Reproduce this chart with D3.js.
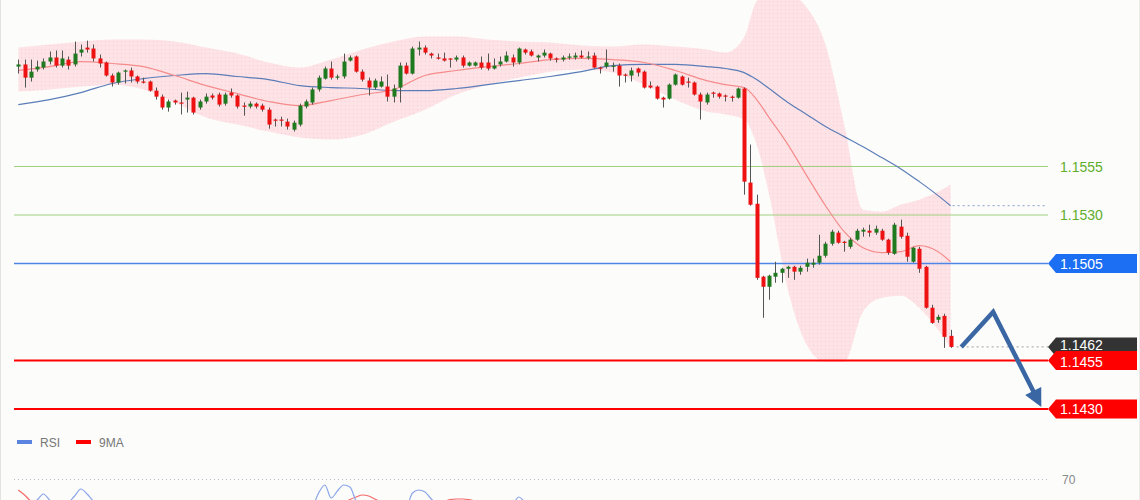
<!DOCTYPE html>
<html><head><meta charset="utf-8">
<script src="https://cdn.jsdelivr.net/npm/d3@7"></script>
<style>
html,body{margin:0;padding:0;background:#fcfcfa;}
svg{display:block;font-family:"Liberation Sans",Arial,sans-serif;}
</style></head><body>
<svg id="chart" width="1140" height="500"></svg>
<script>
// ---- candle data (EUR/USD style prices) ----
const opens = [
1.16065,1.16076,1.16008,1.16050,1.16060,1.16091,1.16112,1.16070,1.16101,1.16076,
1.16137,1.16163,1.16158,1.16107,1.16086,1.16019,1.15983,1.16039,1.16045,1.16014,
1.15988,1.15988,1.15941,1.15910,1.15854,1.15890,1.15880,1.15895,1.15905,1.15854,
1.15885,1.15916,1.15921,1.15874,1.15931,1.15916,1.15864,1.15859,1.15874,1.15864,
1.15843,1.15792,1.15792,1.15781,1.15740,1.15766,1.15859,1.15880,1.15947,1.16003,
1.16055,1.16008,1.16014,1.16096,1.16117,1.16039,1.15993,1.15957,1.15962,1.15962,
1.15910,1.15957,1.16070,1.16029,1.16153,1.16163,1.16132,1.16112,1.16107,1.16107,
1.16101,1.16112,1.16070,1.16070,1.16086,1.16086,1.16055,1.16076,1.16091,1.16112,
1.16086,1.16153,1.16143,1.16112,1.16122,1.16132,1.16107,1.16101,1.16112,1.16112,
1.16122,1.16112,1.16122,1.16060,1.16065,1.16065,1.16070,1.16024,1.16019,1.16055,
1.16039,1.15967,1.15962,1.15905,1.15900,1.15972,1.16014,1.15988,1.15983,1.15921,
1.15880,1.15931,1.15926,1.15916,1.15910,1.15905,1.15952,1.15467,1.15358,1.14982,
1.14930,1.14982,1.15002,1.15023,1.15033,1.15008,1.15033,1.15044,1.15054,1.15090,
1.15152,1.15209,1.15162,1.15136,1.15173,1.15214,1.15219,1.15209,1.15219,1.15173,
1.15100,1.15240,1.15193,1.15059,1.15126,1.15033,1.14822,1.14760,1.14780,1.14677];
const highs = [
1.16101,1.16101,1.16101,1.16096,1.16107,1.16143,1.16148,1.16148,1.16117,1.16194,
1.16179,1.16199,1.16179,1.16127,1.16091,1.16029,1.16039,1.16050,1.16060,1.16019,
1.16008,1.15993,1.15957,1.15921,1.15895,1.15895,1.15931,1.15936,1.15910,1.15895,
1.15926,1.15926,1.15931,1.15931,1.15952,1.15921,1.15880,1.15885,1.15880,1.15874,
1.15854,1.15797,1.15807,1.15797,1.15787,1.15874,1.15895,1.15957,1.16019,1.16065,
1.16091,1.16024,1.16132,1.16122,1.16122,1.16050,1.16008,1.16003,1.16014,1.16024,
1.15972,1.16086,1.16086,1.16168,1.16194,1.16174,1.16137,1.16132,1.16137,1.16107,
1.16122,1.16122,1.16091,1.16091,1.16117,1.16132,1.16107,1.16117,1.16143,1.16127,
1.16163,1.16158,1.16153,1.16127,1.16153,1.16137,1.16112,1.16122,1.16132,1.16137,
1.16148,1.16143,1.16137,1.16065,1.16153,1.16086,1.16081,1.16029,1.16060,1.16060,
1.16045,1.15988,1.15967,1.15910,1.15978,1.16029,1.16019,1.16008,1.15988,1.15931,
1.15931,1.15936,1.15931,1.15921,1.15916,1.15957,1.15957,1.15663,1.15405,1.14987,
1.14992,1.15059,1.15028,1.15038,1.15038,1.15038,1.15075,1.15075,1.15198,1.15162,
1.15224,1.15219,1.15167,1.15183,1.15229,1.15235,1.15250,1.15245,1.15229,1.15178,
1.15260,1.15276,1.15209,1.15136,1.15136,1.15038,1.14837,1.14786,1.14791,1.14708];
const lows = [
1.16029,1.15957,1.15988,1.16039,1.16050,1.16076,1.16060,1.16060,1.16050,1.16065,
1.16117,1.16137,1.16091,1.16060,1.16014,1.15962,1.15972,1.15978,1.15983,1.15978,
1.15978,1.15936,1.15895,1.15843,1.15833,1.15869,1.15818,1.15828,1.15818,1.15843,
1.15874,1.15895,1.15859,1.15864,1.15905,1.15849,1.15812,1.15849,1.15849,1.15833,
1.15745,1.15756,1.15756,1.15740,1.15730,1.15756,1.15849,1.15869,1.15936,1.15998,
1.15998,1.15998,1.16003,1.16091,1.16034,1.15988,1.15916,1.15947,1.15957,1.15885,
1.15880,1.15880,1.16024,1.16024,1.16122,1.16127,1.16107,1.16101,1.16091,1.16060,
1.16091,1.16060,1.16065,1.16065,1.16050,1.16045,1.16050,1.16065,1.16086,1.16065,
1.16076,1.16127,1.16117,1.16091,1.16112,1.16096,1.16086,1.16091,1.16101,1.16101,
1.16107,1.16101,1.16055,1.16029,1.16055,1.16039,1.15962,1.15983,1.15988,1.16014,
1.15952,1.15952,1.15895,1.15854,1.15895,1.15967,1.15967,1.15957,1.15916,1.15792,
1.15869,1.15905,1.15900,1.15885,1.15885,1.15900,1.15405,1.15348,1.14966,1.14770,
1.14863,1.14951,1.14951,1.14976,1.14966,1.14992,1.15008,1.15028,1.15044,1.15080,
1.15142,1.15152,1.15111,1.15126,1.15167,1.15188,1.15188,1.15198,1.15167,1.15095,
1.15095,1.15178,1.15059,1.15054,1.15002,1.14817,1.14739,1.14744,1.14615,1.14615];
const closes = [
1.16076,1.16008,1.16039,1.16065,1.16091,1.16112,1.16070,1.16107,1.16070,1.16132,
1.16153,1.16153,1.16107,1.16081,1.16019,1.15983,1.16034,1.16045,1.16014,1.15988,
1.15983,1.15941,1.15910,1.15854,1.15885,1.15880,1.15874,1.15905,1.15828,1.15885,
1.15910,1.15905,1.15869,1.15921,1.15916,1.15859,1.15859,1.15874,1.15859,1.15843,
1.15766,1.15787,1.15787,1.15756,1.15776,1.15864,1.15885,1.15947,1.16008,1.16055,
1.16008,1.16014,1.16091,1.16112,1.16039,1.15998,1.15957,1.15993,1.15988,1.15910,
1.15952,1.16070,1.16029,1.16158,1.16163,1.16137,1.16122,1.16107,1.16096,1.16101,
1.16112,1.16070,1.16086,1.16086,1.16060,1.16055,1.16070,1.16091,1.16122,1.16086,
1.16158,1.16137,1.16122,1.16122,1.16137,1.16107,1.16101,1.16112,1.16117,1.16122,
1.16112,1.16117,1.16060,1.16055,1.16086,1.16070,1.16019,1.16019,1.16045,1.16034,
1.15957,1.15957,1.15900,1.15895,1.15972,1.16024,1.15972,1.15983,1.15921,1.15885,
1.15921,1.15926,1.15910,1.15910,1.15905,1.15952,1.15472,1.15353,1.14976,1.14930,
1.14987,1.15002,1.15023,1.15033,1.15008,1.15028,1.15054,1.15054,1.15090,1.15152,
1.15214,1.15157,1.15157,1.15173,1.15219,1.15224,1.15209,1.15229,1.15173,1.15106,
1.15250,1.15188,1.15085,1.15131,1.15023,1.14822,1.14744,1.14775,1.14672,1.14620];

// ---- indicator readings (sampled at candle indices) ----
const maIdx = [0,5,10,15,20,25,30,35,40,45,50,55,60,65,70,75,80,85,90,95,100,105,110,113,116,118,120,123,126,129,132,135,138,141,144,147,149];
const maFast = [1.16045,1.16065,1.16091,1.16081,1.16065,1.16019,1.15967,1.15926,1.15885,1.15864,1.15890,1.15921,1.15947,1.16019,1.16045,1.16065,1.16081,1.16101,1.16107,1.16101,1.16086,1.16045,1.15993,1.15972,1.15957,1.15895,1.15802,1.15663,1.15503,1.15348,1.15214,1.15131,1.15106,1.15111,1.15142,1.15111,1.15059];
const maSlow = [1.15869,1.15895,1.15931,1.15978,1.16003,1.16019,1.16029,1.16014,1.15998,1.15967,1.15957,1.15952,1.15941,1.15941,1.15952,1.15972,1.15993,1.16014,1.16039,1.16070,1.16076,1.16076,1.16065,1.16055,1.16034,1.15998,1.15952,1.15880,1.15818,1.15756,1.15704,1.15652,1.15596,1.15539,1.15472,1.15400,1.15348];
const bandUpper = [1.16163,1.16179,1.16194,1.16205,1.16205,1.16194,1.16163,1.16132,1.16086,1.16060,1.16101,1.16153,1.16194,1.16220,1.16220,1.16205,1.16194,1.16189,1.16174,1.16168,1.16179,1.16168,1.16153,1.16137,1.16215,1.16401,1.16437,1.16437,1.16370,1.16179,1.15766,1.15327,1.15317,1.15353,1.15379,1.15420,1.15456];
const bandLower = [1.15936,1.15947,1.15962,1.15972,1.15947,1.15880,1.15802,1.15766,1.15730,1.15699,1.15689,1.15714,1.15781,1.15843,1.15921,1.15972,1.16008,1.16039,1.16050,1.16034,1.15972,1.15895,1.15833,1.15818,1.15792,1.15663,1.15405,1.14915,1.14631,1.14543,1.14543,1.14801,1.14873,1.14884,1.14822,1.14708,1.14615];

// ---- RSI panel ----
const rsi = [
45,46,47,49,55,49,44,42,46,53,60,55,48,44,38,
34,38,37,35,33,32,30,27,25,28,28,29,31,27,31,
34,35,32,35,34,30,30,31,30,29,24,25,25,23,26,33,35,
42,56,64,51,58,64,62,48,43,38,41,40,36,
38,46,43,56,59,57,50,45,43,42,45,41,43,44,42,41,43,45,48,46,
52,47,45,44,46,44,42,43,44,45,44,45,38,37,41,41,35,35,38,37,
32,32,28,28,34,38,35,35,31,30,33,33,32,32,31,36,
14,11,7,7,12,14,16,17,16,18,20,20,23,28,33,32,32,34,38,38,38,39,36,33,40,37,33,36,33,28,22,21,22,17];
const rsiMA = [
59,54,48,46,46,46,46,46,46,47,47,47,47,46,45,
44,43,41,39,37,36,35,33,32,31,30,29,28,28,28,
29,30,30,31,32,32,32,32,32,31,30,29,28,27,27,27,28,
30,34,38,41,44,46,49.5,52,54,53,50,47,45,
44,43,44,45,46,47,47,48,48,49.5,50,50,49.5,48,47,46,45,45,45,45,
45,45,45,45,45,45,45,44,44,44,44,44,43,42,41,41,40,39,38,37,
37,36,35,34,33,33,33,33,32,32,33,33,33,33,32,32,
30,27,24,21,19,17,15,14,13,13,14,15,16,17,19,21,23,25,28,31,33,35,36,36,37,37,37,37,36,35,33,31,29,27];
const rsiLevel = 70;

// ---- levels & annotations ----
const levelValues = [1.1555, 1.1530, 1.1505, 1.1455, 1.1430];
const levelLabels = ["1.1555", "1.1530", "1.1505", "1.1455", "1.1430"];
const lastPrice = 1.1462;
const lastLabel = "1.1462";
const arrowIdx = [150.7, 155.8, 163.5];
const arrowPrice = [1.1462, 1.1480, 1.1431];
const legendNames = ["RSI", "9MA"];

// ---- drawing ----
const W = 1140, H = 500;
const svg = d3.select("#chart");
const x = d3.scaleLinear().domain([0, 149]).range([18.3, 950.6]);
const y = d3.scaleLinear().domain([1.1555, 1.1430]).range([166.5, 409]);
const yR = d3.scaleLinear().domain([70, 50]).range([479, 499]);
const X0 = 14, X1 = 1048;

const defs = svg.append("defs");
const pat = defs.append("pattern").attr("id", "dots").attr("width", 4).attr("height", 4).attr("patternUnits", "userSpaceOnUse");
pat.append("rect").attr("width", 4).attr("height", 4).attr("fill", "#fde2e6");
pat.append("rect").attr("x", 1).attr("y", 1).attr("width", 1).attr("height", 1).attr("fill", "#f9ccd3");

svg.append("rect").attr("width", W).attr("height", H).attr("fill", "#fcfcfa");
svg.append("line").attr("x1", 0.5).attr("x2", 0.5).attr("y1", 0).attr("y2", H).attr("stroke", "#e3e3e3");
svg.append("line").attr("x1", W - 0.5).attr("x2", W - 0.5).attr("y1", 0).attr("y2", H).attr("stroke", "#ececec");

const ind = maIdx.map((i, k) => ({ i, fast: maFast[k], slow: maSlow[k], hi: bandUpper[k], lo: bandLower[k] }));

// Bollinger band
svg.append("path").datum(ind)
  .attr("d", d3.area().x(d => x(d.i)).y0(d => y(d.lo)).y1(d => y(d.hi)).curve(d3.curveMonotoneX))
  .attr("fill", "url(#dots)");

// level lines
const levelStyle = [
  { stroke: "#9fd07c", w: 1, text: "#62ad2c", tag: null },
  { stroke: "#9fd07c", w: 1, text: "#62ad2c", tag: null },
  { stroke: "#4d86e6", w: 1.4, text: "#fff", tag: "#1c6ff2" },
  { stroke: "#ff0000", w: 2, text: "#fff", tag: "#ff0000" },
  { stroke: "#ff0000", w: 2, text: "#fff", tag: "#ff0000" }
];
levelValues.forEach((v, k) => {
  svg.append("line").attr("x1", X0).attr("x2", X1).attr("y1", y(v)).attr("y2", y(v))
    .attr("stroke", levelStyle[k].stroke).attr("stroke-width", levelStyle[k].w);
});

// slow MA dotted extension and last price dotted line
svg.append("line").attr("x1", x(149) + 2).attr("x2", X1 - 1)
  .attr("y1", y(maSlow[maSlow.length - 1])).attr("y2", y(maSlow[maSlow.length - 1]))
  .attr("stroke", "#9fb0d8").attr("stroke-width", 1.2).attr("stroke-dasharray", "2,3");
svg.append("line").attr("x1", x(149) + 6).attr("x2", X1)
  .attr("y1", y(lastPrice)).attr("y2", y(lastPrice))
  .attr("stroke", "#b0b0b0").attr("stroke-width", 1.2).attr("stroke-dasharray", "2,3");

// moving averages
const lineGen = key => d3.line().x(d => x(d.i)).y(d => y(d[key])).curve(d3.curveMonotoneX);
svg.append("path").datum(ind).attr("d", lineGen("slow")).attr("fill", "none").attr("stroke", "#5b7db8").attr("stroke-width", 1.2);
svg.append("path").datum(ind).attr("d", lineGen("fast")).attr("fill", "none").attr("stroke", "#f58c8c").attr("stroke-width", 1.2);

// candles
const candles = opens.map((o, i) => ({ i, o, h: highs[i], l: lows[i], c: closes[i] }));
const cg = svg.append("g");
cg.selectAll("line.wick").data(candles).join("line")
  .attr("x1", d => Math.round(x(d.i)) + 0.5).attr("x2", d => Math.round(x(d.i)) + 0.5)
  .attr("y1", d => y(d.h)).attr("y2", d => y(d.l))
  .attr("stroke", "#555").attr("stroke-width", 1);
cg.selectAll("rect.body").data(candles).join("rect")
  .attr("x", d => Math.round(x(d.i)) - 1.5).attr("width", 4)
  .attr("y", d => y(Math.max(d.o, d.c)))
  .attr("height", d => Math.max(1.2, Math.abs(y(d.o) - y(d.c))))
  .attr("fill", d => d.c > d.o ? "#1f7a1f" : "#ee1111");

// arrow
const ap = arrowIdx.map((i, k) => [x(i), y(arrowPrice[k])]);
const tip = ap[2], prev = ap[1];
const dx = tip[0] - prev[0], dy = tip[1] - prev[1], len = Math.hypot(dx, dy);
const ux = dx / len, uy = dy / len, headL = 18, headW = 9;
const base = [tip[0] - ux * headL, tip[1] - uy * headL];
svg.append("path").attr("d", d3.line()([ap[0], ap[1], [base[0] + ux * 2, base[1] + uy * 2]]))
  .attr("fill", "none").attr("stroke", "#3a66a4").attr("stroke-width", 4.5).attr("stroke-linejoin", "miter");
svg.append("path").attr("d", d3.line()([tip, [base[0] - uy * headW, base[1] + ux * headW], [base[0] + uy * headW, base[1] - ux * headW]]) + "Z")
  .attr("fill", "#3a66a4");

// tags
function tag(v, label, color, dy) {
  const cy = y(v), hh = 9.5;
  svg.append("path").attr("d", `M${X1},${cy} L${X1 + 8},${cy - hh} L${W - 3},${cy - hh} L${W - 3},${cy + hh} L${X1 + 8},${cy + hh} Z`).attr("fill", color);
  svg.append("text").attr("x", X1 + 12).attr("y", cy + dy).attr("fill", "#fff").attr("font-size", 14).text(label);
}
levelValues.forEach((v, k) => {
  if (!levelStyle[k].tag) {
    svg.append("text").attr("x", X1 + 12).attr("y", y(v) + 5).attr("fill", levelStyle[k].text).attr("font-size", 14).text(levelLabels[k]);
  }
});
tag(levelValues[2], levelLabels[2], levelStyle[2].tag, 5);
tag(lastPrice, lastLabel, "#333333", 3);
tag(levelValues[3], levelLabels[3], levelStyle[3].tag, 6);
tag(levelValues[4], levelLabels[4], levelStyle[4].tag, 5);

// legend
const legColors = ["#5b83e0", "#ff0000"];
const legX = [17, 76];
legendNames.forEach((n, k) => {
  svg.append("rect").attr("x", legX[k]).attr("y", 440).attr("width", 15).attr("height", 4).attr("fill", legColors[k]);
  svg.append("text").attr("x", legX[k] + 23).attr("y", 446.5).attr("fill", "#777").attr("font-size", 12).text(n);
});

// RSI panel
svg.append("line").attr("x1", X0).attr("x2", X1).attr("y1", yR(rsiLevel) + 0.5).attr("y2", yR(rsiLevel) + 0.5)
  .attr("stroke", "#b8bcc8").attr("stroke-width", 1).attr("stroke-dasharray", "1,3");
svg.append("text").attr("x", X1 + 14).attr("y", yR(rsiLevel) + 4.5).attr("fill", "#888").attr("font-size", 12).text(String(rsiLevel));
const rl = d3.line().x((d, i) => x(i)).y(d => yR(d)).curve(d3.curveMonotoneX);
svg.append("path").datum(rsiMA).attr("d", rl).attr("fill", "none").attr("stroke", "#f46a6a").attr("stroke-width", 1.2);
svg.append("path").datum(rsi).attr("d", rl).attr("fill", "none").attr("stroke", "#8aa6ea").attr("stroke-width", 1.2);
</script>
</body></html>
